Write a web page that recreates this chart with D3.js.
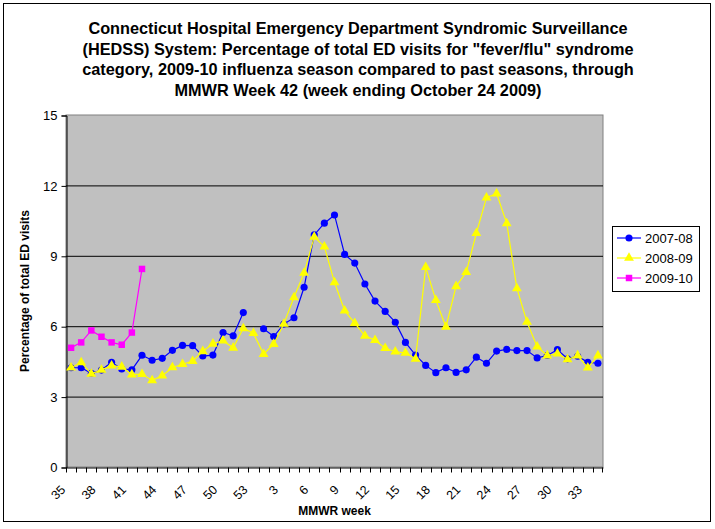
<!DOCTYPE html>
<html>
<head>
<meta charset="utf-8">
<script src="https://cdn.jsdelivr.net/npm/d3@7"></script>
<style>
  body { margin: 0; background: #fff; }
  text { font-family: "Liberation Sans", Arial, sans-serif; }
</style>
</head>
<body>
<div id="chart"></div>
<script>
// MMWR weeks on the category axis (season runs week 35 -> week 34)
const weeks = [35, 36, 37, 38, 39, 40, 41, 42, 43, 44, 45, 46, 47, 48, 49, 50, 51, 52, 53,
  1, 2, 3, 4, 5, 6, 7, 8, 9, 10, 11, 12, 13, 14, 15, 16, 17, 18, 19, 20, 21, 22, 23, 24,
  25, 26, 27, 28, 29, 30, 31, 32, 33, 34];
const weekLabels = [35, 38, 41, 44, 47, 50, 53, 3, 6, 9, 12, 15, 18, 21, 24, 27, 30, 33];
const yTicks = [0, 3, 6, 9, 12, 15];

// percentage of ED visits, one value per week (null = no week 53 that season)
const season0708 = [4.23, 4.23, 3.99, 4.13, 4.46, 4.18, 4.14, 4.76, 4.55, 4.63, 4.97, 5.18, 5.17,
  4.73, 4.77, 5.73, 5.59, 6.58, null, 5.89, 5.56, 6.09, 6.36, 7.66, 9.89, 10.39, 10.74, 9.06,
  8.69, 7.80, 7.07, 6.63, 6.17, 5.31, 4.77, 4.33, 4.02, 4.23, 4.03, 4.14, 4.68, 4.42, 4.94,
  5.01, 4.96, 4.96, 4.65, 4.75, 5.00, 4.61, 4.72, 4.46, 4.42];
const season0809 = [4.23, 4.46, 3.97, 4.14, 4.32, 4.27, 3.94, 3.96, 3.69, 3.89, 4.24, 4.38, 4.51,
  4.93, 5.25, 5.38, 5.08, 5.91, 5.70, 4.81, 5.24, 6.10, 7.23, 8.27, 9.80, 9.39, 7.87, 6.66,
  6.13, 5.59, 5.40, 5.06, 4.91, 4.86, 4.61, 8.52, 7.11, 5.97, 7.70, 8.30, 9.96, 11.48, 11.65,
  10.38, 7.61, 6.18, 5.13, 4.75, 4.83, 4.58, 4.75, 4.23, 4.75];
const season0910 = [5.08, 5.31, 5.82, 5.55, 5.31, 5.21, 5.73, 8.44];

const seriesNames = ["2007-08", "2008-09", "2009-10"];

const width = 715;
const height = 529;
const plot = { left: 66, top: 115, right: 603, bottom: 467 };

const svg = d3.select("#chart").append("svg")
    .attr("width", width)
    .attr("height", height);

// outer chart border
svg.append("rect")
    .attr("x", 3.5).attr("y", 3.5)
    .attr("width", 707).attr("height", 518)
    .attr("fill", "#fff")
    .attr("stroke", "#000");

// title
const titleLines = [
  "Connecticut Hospital Emergency Department Syndromic Surveillance",
  "(HEDSS) System: Percentage of total ED visits for \"fever/flu\" syndrome",
  "category, 2009-10 influenza season compared to past seasons, through",
  "MMWR Week 42 (week ending October 24 2009)"
];
svg.append("text")
    .attr("text-anchor", "middle")
    .attr("font-size", 16.3)
    .attr("font-weight", "bold")
  .selectAll("tspan")
    .data(titleLines)
  .enter().append("tspan")
    .attr("x", 358)
    .attr("y", (d, i) => 34 + i * 20.7)
    .text(d => d);

// scales
const x = d3.scaleBand()
    .domain(weeks)
    .range([plot.left, plot.right]);

const y = d3.scaleLinear()
    .domain([0, 15])
    .range([plot.bottom, plot.top]);

// plot area
svg.append("rect")
    .attr("x", plot.left).attr("y", plot.top)
    .attr("width", plot.right - plot.left)
    .attr("height", plot.bottom - plot.top)
    .attr("fill", "#C0C0C0")
    .attr("stroke", "#808080");

// gridlines
svg.append("g")
  .selectAll("line")
    .data(yTicks.filter(d => d > 0 && d < 15))
  .enter().append("line")
    .attr("x1", plot.left).attr("x2", plot.right)
    .attr("y1", d => y(d) + 0.5).attr("y2", d => y(d) + 0.5)
    .attr("stroke", "#000");

// y axis
const yAxis = svg.append("g")
    .attr("transform", `translate(${plot.left + 0.5},0.5)`)
    .call(d3.axisLeft(y).tickValues(yTicks).tickSize(5).tickPadding(4));
yAxis.select(".domain").attr("stroke", "#000");
yAxis.selectAll("text").attr("font-size", 13).attr("fill", "#000").attr("font-family", "Liberation Sans, Arial");

// x axis: labels every third week, ticks on every category boundary
const xAxis = svg.append("g")
    .attr("transform", `translate(0,${plot.bottom + 0.5})`)
    .call(d3.axisBottom(x).tickValues(weekLabels).tickSize(0));
xAxis.select(".domain").attr("stroke", "#000");
xAxis.selectAll("text")
    .attr("font-size", 12.5)
    .attr("font-family", "Liberation Sans, Arial")
    .attr("fill", "#000")
    .attr("y", 0)
    .attr("dy", 0)
    .attr("transform", "translate(-5,23) rotate(-45)")
    .style("text-anchor", "end");

xAxis.selectAll(".boundary")
    .data(weeks.concat(["end"]))
  .enter().append("line")
    .attr("class", "boundary")
    .attr("x1", d => d === "end" ? plot.right - 0.5 : Math.round(x(d)) + 0.5)
    .attr("x2", d => d === "end" ? plot.right - 0.5 : Math.round(x(d)) + 0.5)
    .attr("y1", 0).attr("y2", 5)
    .attr("stroke", "#000");

// axis titles
svg.append("text")
    .attr("transform", `translate(29,${(plot.top + plot.bottom) / 2}) rotate(-90)`)
    .attr("text-anchor", "middle")
    .attr("font-size", 12)
    .attr("font-weight", "bold")
    .text("Percentage of total ED visits");

svg.append("text")
    .attr("x", (plot.left + plot.right) / 2)
    .attr("y", 515)
    .attr("text-anchor", "middle")
    .attr("font-size", 12)
    .attr("font-weight", "bold")
    .text("MMWR week");

// series
const cx = (d, i) => x(weeks[i]) + x.bandwidth() / 2;
const line = d3.line()
    .defined(d => d != null)
    .x(cx)
    .y(d => y(d));

const series = [
  { name: seriesNames[0], values: season0708, color: "#0000FF", symbol: d3.symbolCircle, size: 40 },
  { name: seriesNames[1], values: season0809, color: "#FFFF00", symbol: d3.symbolTriangle, size: 42 },
  { name: seriesNames[2], values: season0910, color: "#FF00FF", symbol: d3.symbolSquare, size: 42 }
];

series.forEach(s => {
  svg.append("path")
      .datum(s.values)
      .attr("d", line)
      .attr("fill", "none")
      .attr("stroke", s.color)
      .attr("stroke-width", 1.2);

  svg.append("g")
    .selectAll("path")
      .data(s.values.map((v, i) => ({ v, i })).filter(d => d.v != null))
    .enter().append("path")
      .attr("d", d3.symbol(s.symbol, s.size))
      .attr("transform", d => `translate(${cx(d.v, d.i)},${y(d.v)})`)
      .attr("fill", s.color);
});

// legend
const legend = svg.append("g");
legend.append("rect")
    .attr("x", 612.5).attr("y", 226.5)
    .attr("width", 87).attr("height", 65)
    .attr("fill", "#fff")
    .attr("stroke", "#000");

series.forEach((s, i) => {
  const ly = 238 + i * 20;
  legend.append("line")
      .attr("x1", 617).attr("x2", 641)
      .attr("y1", ly).attr("y2", ly)
      .attr("stroke", s.color)
      .attr("stroke-width", 1.2);
  legend.append("path")
      .attr("d", d3.symbol(s.symbol, s.size))
      .attr("transform", `translate(629,${ly})`)
      .attr("fill", s.color);
  legend.append("text")
      .attr("x", 645)
      .attr("y", ly + 5)
      .attr("font-size", 13)
      .text(s.name);
});
</script>
</body>
</html>
